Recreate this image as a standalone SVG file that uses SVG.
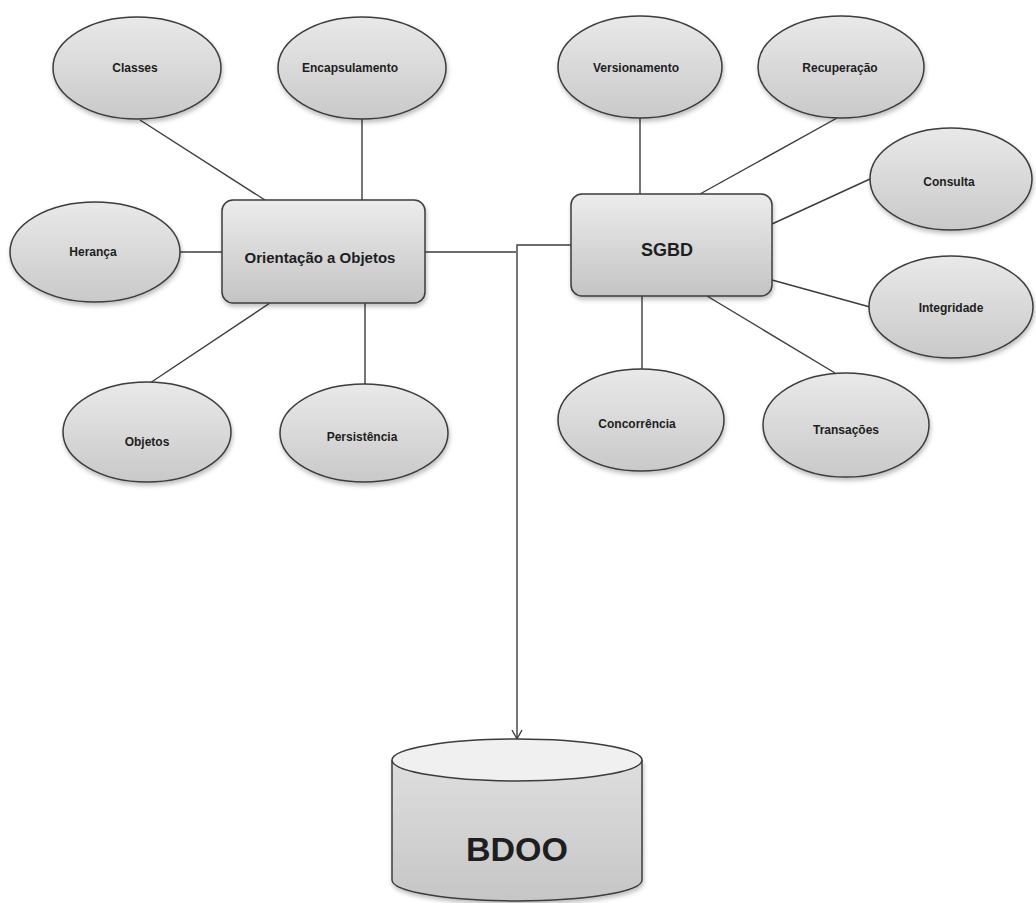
<svg xmlns="http://www.w3.org/2000/svg" width="1036" height="903" viewBox="0 0 1036 903">
  <defs>
    <linearGradient id="gEll" x1="0" y1="0" x2="0" y2="1">
      <stop offset="0" stop-color="#e9e9e9"/>
      <stop offset="1" stop-color="#c9c9c9"/>
    </linearGradient>
    <linearGradient id="gBox" x1="0" y1="0" x2="0" y2="1">
      <stop offset="0" stop-color="#ececec"/>
      <stop offset="1" stop-color="#c4c4c4"/>
    </linearGradient>
    <linearGradient id="gCyl" x1="0" y1="0" x2="0" y2="1">
      <stop offset="0" stop-color="#dedede"/>
      <stop offset="1" stop-color="#c6c6c6"/>
    </linearGradient>
    <filter id="shadow" x="-20%" y="-20%" width="140%" height="150%">
      <feDropShadow dx="1" dy="3" stdDeviation="2" flood-color="#000" flood-opacity="0.25"/>
    </filter>
    <marker id="arrow" markerWidth="12" markerHeight="12" refX="10" refY="6" orient="auto" markerUnits="userSpaceOnUse">
      <path d="M1,1 L10,6 L1,11" fill="none" stroke="#333" stroke-width="1.3"/>
    </marker>
    <style>
      .ell { fill: url(#gEll); stroke: #3c3c3c; stroke-width: 1.5; filter: url(#shadow); }
      .box { fill: url(#gBox); stroke: #3c3c3c; stroke-width: 1.5; filter: url(#shadow); }
      .lbl { font-family: "Liberation Sans", Arial, sans-serif; font-weight: bold; font-size: 12px; fill: #1e1e1e; text-anchor: middle; dominant-baseline: central; }
      .big { font-size: 15px; }
      .conn { stroke: #3c3c3c; stroke-width: 1.4; fill: none; }
    </style>
  </defs>

  <rect width="1036" height="903" fill="#ffffff"/>

  <!-- connectors -->
  <g id="connectors">
    <line class="conn" x1="140" y1="120" x2="268" y2="202"/>
    <line class="conn" x1="362" y1="118" x2="362" y2="201"/>
    <line class="conn" x1="180" y1="252" x2="222" y2="252"/>
    <line class="conn" x1="270" y1="303" x2="150" y2="383"/>
    <line class="conn" x1="365" y1="303" x2="365" y2="385"/>
    <line class="conn" x1="425" y1="252" x2="516" y2="252"/>
    <polyline class="conn" points="571,245 517,245 517,739" marker-end="url(#arrow)"/>
    <line class="conn" x1="640" y1="118" x2="640" y2="195"/>
    <line class="conn" x1="837" y1="118" x2="700" y2="194"/>
    <line class="conn" x1="870" y1="179" x2="772" y2="224"/>
    <line class="conn" x1="772" y1="280" x2="870" y2="307"/>
    <line class="conn" x1="642" y1="296" x2="642" y2="369"/>
    <line class="conn" x1="707" y1="296" x2="835" y2="373"/>
  </g>

  <!-- object orientation side -->
  <g id="classes">
    <ellipse class="ell" cx="137" cy="68" rx="84" ry="51"/>
    <text class="lbl" x="135" y="68">Classes</text>
  </g>
  <g id="encapsulamento">
    <ellipse class="ell" cx="362" cy="68" rx="84" ry="51"/>
    <text class="lbl" x="350" y="68">Encapsulamento</text>
  </g>
  <g id="heranca">
    <ellipse class="ell" cx="95" cy="252" rx="85" ry="50"/>
    <text class="lbl" x="93" y="252">Herança</text>
  </g>
  <g id="objetos">
    <ellipse class="ell" cx="147" cy="432" rx="84" ry="50"/>
    <text class="lbl" x="147" y="442">Objetos</text>
  </g>
  <g id="persistencia">
    <ellipse class="ell" cx="364" cy="433" rx="84" ry="49"/>
    <text class="lbl" x="362" y="437">Persistência</text>
  </g>
  <g id="orientacao">
    <rect class="box" x="222" y="200" width="203" height="103" rx="11"/>
    <text class="lbl big" x="320" y="257">Orientação a Objetos</text>
  </g>

  <!-- DBMS side -->
  <g id="versionamento">
    <ellipse class="ell" cx="640" cy="67" rx="82" ry="51"/>
    <text class="lbl" x="636" y="68">Versionamento</text>
  </g>
  <g id="recuperacao">
    <ellipse class="ell" cx="841" cy="67" rx="83" ry="51"/>
    <text class="lbl" x="840" y="68">Recuperação</text>
  </g>
  <g id="consulta">
    <ellipse class="ell" cx="951" cy="179" rx="81" ry="51"/>
    <text class="lbl" x="949" y="182">Consulta</text>
  </g>
  <g id="integridade">
    <ellipse class="ell" cx="951" cy="307" rx="82" ry="51"/>
    <text class="lbl" x="951" y="308">Integridade</text>
  </g>
  <g id="concorrencia">
    <ellipse class="ell" cx="641" cy="420" rx="83" ry="51"/>
    <text class="lbl" x="637" y="424">Concorrência</text>
  </g>
  <g id="transacoes">
    <ellipse class="ell" cx="846" cy="425" rx="83" ry="52"/>
    <text class="lbl" x="846" y="430">Transações</text>
  </g>
  <g id="sgbd">
    <rect class="box" x="571" y="194" width="201" height="102" rx="11"/>
    <text class="lbl" x="667" y="250" style="font-size:18px">SGBD</text>
  </g>

  <!-- database cylinder -->
  <g id="bdoo">
    <path d="M392,760 L392,880 A125,21 0 0 0 642,880 L642,760" fill="url(#gCyl)" stroke="#3c3c3c" stroke-width="1.5" filter="url(#shadow)"/>
    <ellipse cx="517" cy="760" rx="125" ry="21" fill="#f0f0f0" stroke="#3c3c3c" stroke-width="1.5"/>
    <text class="lbl" x="517" y="849" style="font-size:34px">BDOO</text>
  </g>
</svg>
